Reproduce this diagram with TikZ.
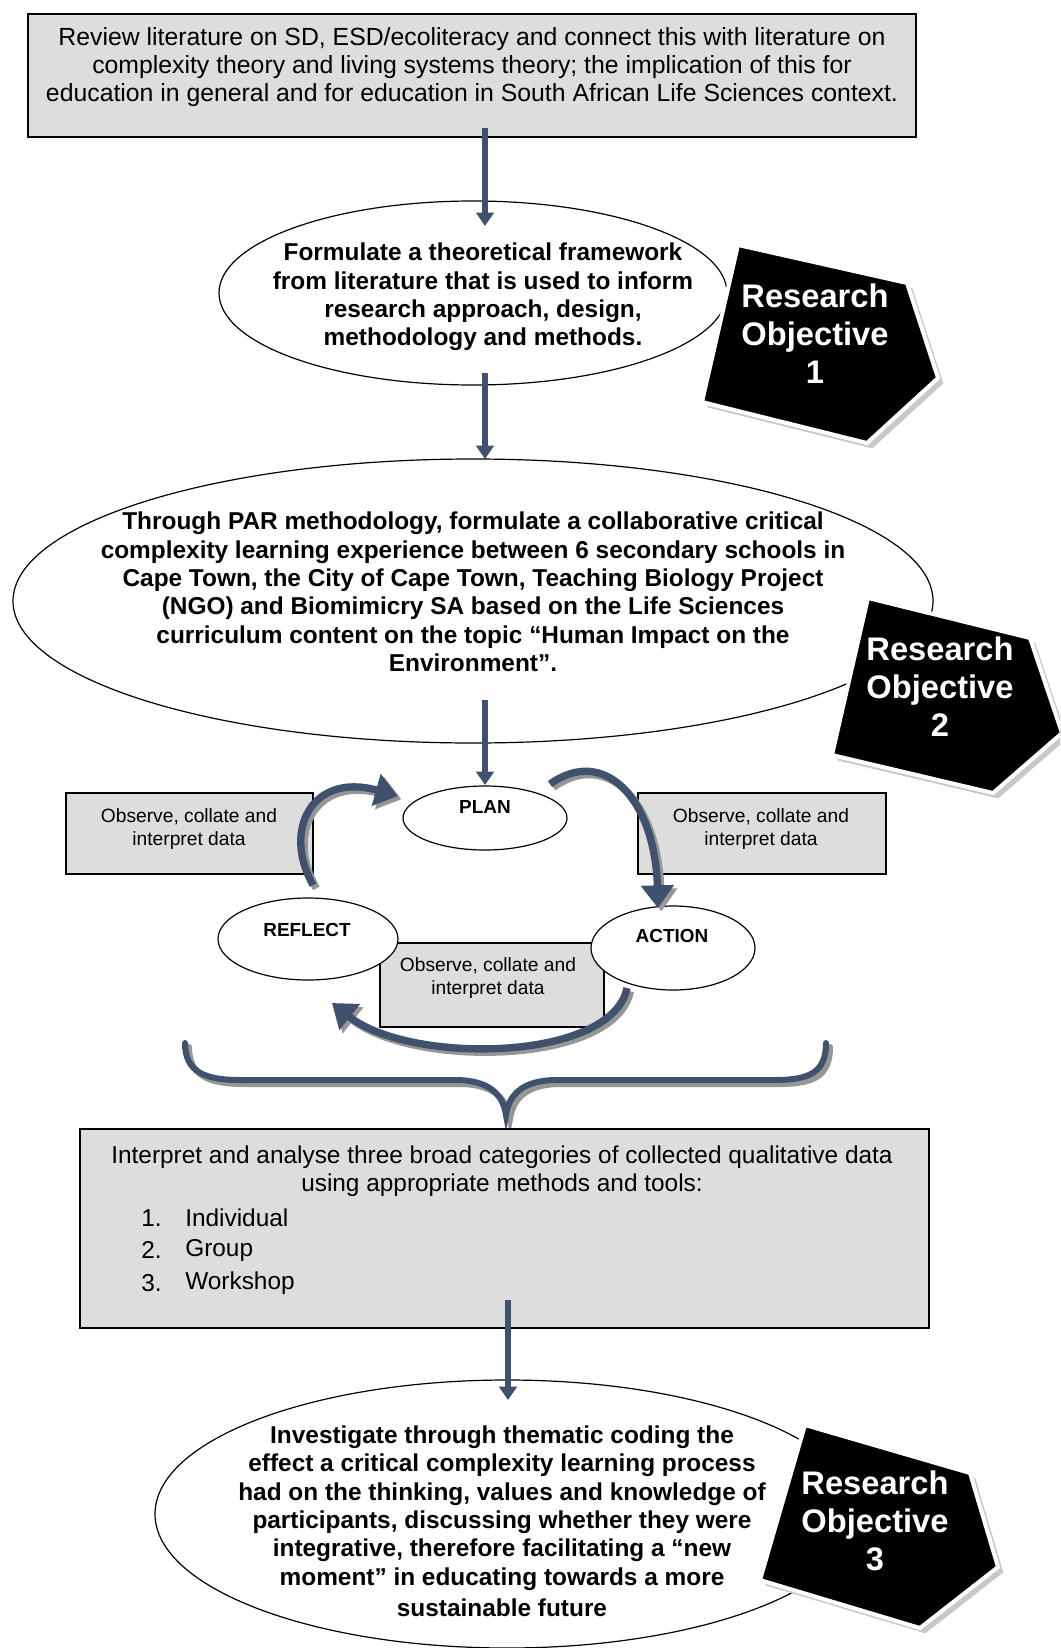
\documentclass[tikz,border=0pt]{standalone}
\usepackage{fontspec}
\setmainfont{Liberation Sans}
\usetikzlibrary{shapes.geometric,arrows.meta}
\definecolor{boxgray}{RGB}{221,221,221}
\definecolor{arrowblue}{RGB}{63,81,109}
\definecolor{shadegray}{RGB}{150,150,150}
\definecolor{penshadow}{RGB}{200,200,200}
\tikzset{
  greybox/.style={draw=black, line width=1.1pt, fill=boxgray, rectangle, inner sep=0pt},
  oval/.style={draw=black, line width=0.9pt, fill=white, ellipse, inner sep=0pt},
  txt/.style={align=center, inner sep=0pt},
  boldtxt/.style={txt, font=\bfseries\fontsize{18.3}{21.3}\selectfont},
  smalltxt/.style={txt, font=\fontsize{14.4}{17.3}\selectfont},
  cycletxt/.style={txt, font=\bfseries\fontsize{14.2}{17}\selectfont},
  objtxt/.style={txt, text=white, font=\bfseries\fontsize{24.5}{28.5}\selectfont},
  arr/.style={draw=arrowblue, line width=4pt, -{Triangle[width=13pt,length=10pt]}},
  bendarr/.style={draw=arrowblue, line width=5.5pt, -{Triangle[width=24pt,length=17pt]}},
  bendshadow/.style={draw=shadegray, line width=5.5pt, -{Triangle[width=24pt,length=17pt]},
    transform canvas={xshift=2.5pt,yshift=-2.5pt}},
  pentshadow/.style={fill=penshadow, transform canvas={xshift=4pt,yshift=-4pt}},
  pent/.style={fill=black, draw=white, line width=3pt, line join=miter},
}
\begin{document}
\begin{tikzpicture}[x=0.75pt,y=-0.75pt]
\clip (0,0) rectangle (1060,1648);
\fill[white] (0,0) rectangle (1060,1648);

% ---------- literature review box ----------
\node[greybox, minimum width=666pt, minimum height=92.25pt] (review) at (472,75.5) {};
\node[txt, font=\fontsize{18.6}{20.8}\selectfont] (reviewtxt) at (472,67)
  {Review literature on SD, ESD/ecoliteracy and connect this with literature on\\
   complexity theory and living systems theory; the implication of this for\\
   education in general and for education in South African Life Sciences context.};

% ---------- objective 1 ----------
\node[oval, minimum width=381pt, minimum height=138pt] (frame) at (473,293) {};
\node[boldtxt] (frametxt) at (483,297)
  {Formulate a theoretical framework\\
   from literature that is used to inform\\
   research approach, design,\\
   methodology and methods.};
\fill[pentshadow] (738,245) -- (907,283) -- (938,378) -- (867,443) -- (702,402) -- cycle;
\draw[pent] (738,245) -- (907,283) -- (938,378) -- (867,443) -- (702,402) -- cycle;
\node[objtxt] (obj1) at (815,334) {Research\\Objective\\1};

% ---------- objective 2 ----------
\node[oval, minimum width=690pt, minimum height=213pt] (par) at (473,601) {};
\node[boldtxt] (partxt) at (473,592)
  {Through PAR methodology, formulate a collaborative critical\\
   complexity learning experience between 6 secondary schools in\\
   Cape Town, the City of Cape Town, Teaching Biology Project\\
   (NGO) and Biomimicry SA based on the Life Sciences\\
   curriculum content on the topic “Human Impact on the\\
   Environment”.};
\fill[pentshadow] (868,598) -- (1030,638) -- (1062,733) -- (993,793) -- (832,755) -- cycle;
\draw[pent] (868,598) -- (1030,638) -- (1062,733) -- (993,793) -- (832,755) -- cycle;
\node[objtxt] (obj2) at (940,687) {Research\\Objective\\2};

% ---------- action research cycle ----------
\node[greybox, minimum width=185.25pt, minimum height=60.75pt] (obsleft) at (189.5,833.5) {};
\node[smalltxt] (obslefttxt) at (189,829) {Observe, collate and\\interpret data};
\node[greybox, minimum width=186pt, minimum height=60.75pt] (obsright) at (762,833.5) {};
\node[smalltxt] (obsrighttxt) at (761,829) {Observe, collate and\\interpret data};
\node[greybox, minimum width=168pt, minimum height=63pt] (obsbottom) at (492,985) {};
\node[smalltxt] (obsbottomtxt) at (488,978) {Observe, collate and\\interpret data};

\node[oval, minimum width=123pt, minimum height=48pt] (plan) at (485,818) {};
\node[cycletxt] (plantxt) at (485,807) {PLAN};
\node[oval, minimum width=135pt, minimum height=61.5pt] (reflect) at (308,939) {};
\node[cycletxt] (reflecttxt) at (307,930) {REFLECT};
\node[oval, minimum width=123pt, minimum height=63pt] (action) at (673,948) {};
\node[cycletxt] (actiontxt) at (672,936) {ACTION};

\coordinate (lfrom) at (313,885);  \coordinate (lto) at (398,796);
\coordinate (rfrom) at (550,784);  \coordinate (rto) at (658,908);
\coordinate (bfrom) at (627,988);  \coordinate (bto) at (332,1003);
\draw[bendshadow] (lfrom) .. controls (282,830) and (312,772) .. (lto);
\draw[bendarr]    (lfrom) .. controls (282,830) and (312,772) .. (lto);
\draw[bendshadow] (rfrom) .. controls (605,745) and (655,800) .. (rto);
\draw[bendarr]    (rfrom) .. controls (605,745) and (655,800) .. (rto);
\draw[bendshadow] (bfrom) .. controls (612,1062) and (410,1065) .. (bto);
\draw[bendarr]    (bfrom) .. controls (612,1062) and (410,1065) .. (bto);

% ---------- brace gathering the cycle ----------
\def\bracepath{(185,1043) .. controls (185,1072) and (205,1080) .. (240,1080) -- (455,1080)
  .. controls (490,1080) and (503,1095) .. (506,1115)
  .. controls (509,1095) and (522,1080) .. (557,1080) -- (775,1080)
  .. controls (810,1080) and (826,1072) .. (826,1043)}
\draw[shadegray, line width=4.5pt, line cap=round, transform canvas={xshift=3pt,yshift=-3pt}] \bracepath;
\draw[arrowblue, line width=4.5pt, line cap=round] \bracepath;

% ---------- analysis box ----------
\node[greybox, minimum width=636.75pt, minimum height=149.25pt] (analyse) at (504.5,1228.5) {};
\node[txt, font=\fontsize{18.3}{21.3}\selectfont] (analysetxt) at (502,1171)
  {Interpret and analyse three broad categories of collected qualitative data\\
   using appropriate methods and tools:};
\begin{scope}[every node/.style={anchor=west, inner sep=0pt, font=\fontsize{18.3}{21.3}\selectfont}]
  \node (num1) at (141,1218) {1.};  \node (item1) at (185,1218) {Individual};
  \node (num2) at (141,1250) {2.};  \node (item2) at (185,1250) {Group};
  \node (num3) at (141,1283) {3.};  \node (item3) at (185,1283) {Workshop};
\end{scope}

% ---------- objective 3 ----------
\node[oval, minimum width=528pt, minimum height=201pt] (investigate) at (507,1514) {};
\node[boldtxt] (investigatetxt) at (502,1521)
  {Investigate through thematic coding the\\
   effect a critical complexity learning process\\
   had on the thinking, values and knowledge of\\
   participants, discussing whether they were\\
   integrative, therefore facilitating a “new\\
   moment” in educating towards a more\\[2pt]
   sustainable future};
\fill[pentshadow] (805,1425) -- (970,1473) -- (998,1567) -- (920,1628) -- (760,1580) -- cycle;
\draw[pent] (805,1425) -- (970,1473) -- (998,1567) -- (920,1628) -- (760,1580) -- cycle;
\node[objtxt] (obj3) at (875,1521) {Research\\Objective\\3};

% ---------- straight connectors ----------
\coordinate (s1) at (485,128);  \coordinate (e1) at (485,226);
\coordinate (s2) at (485,373);  \coordinate (e2) at (485,459);
\coordinate (s3) at (485,700);  \coordinate (e3) at (485,785);
\coordinate (s4) at (508,1300); \coordinate (e4) at (508,1400);
\draw[arr] (s1) -- (e1);
\draw[arr] (s2) -- (e2);
\draw[arr] (s3) -- (e3);
\draw[arr] (s4) -- (e4);
\end{tikzpicture}
\end{document}
